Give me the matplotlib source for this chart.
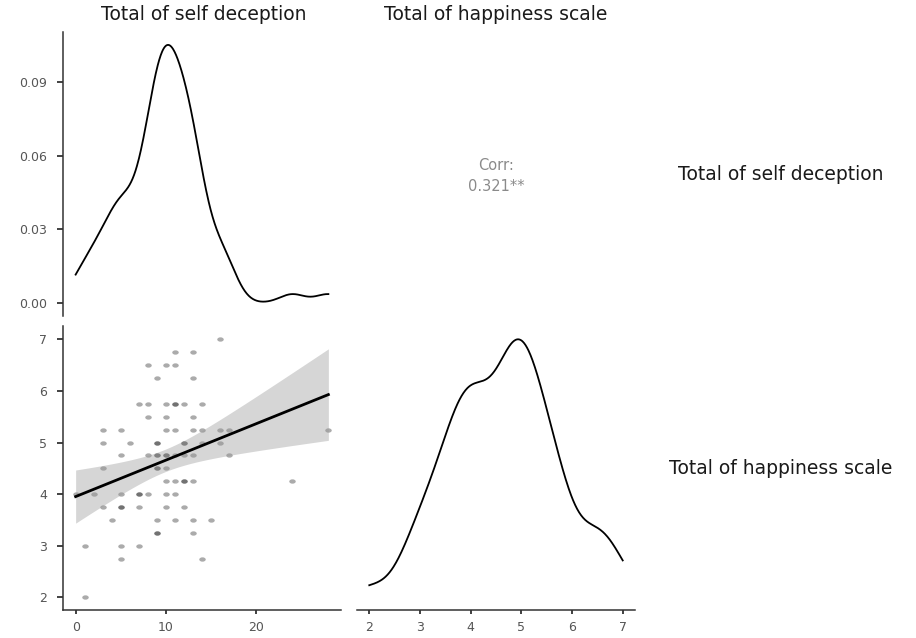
import matplotlib
matplotlib.use("Agg")
import matplotlib.pyplot as plt
import numpy as np
from matplotlib.path import Path
from matplotlib.transforms import Affine2D

# self deception score and happiness score for each respondent
self_deception = [16,
                  11, 13,
                  8, 10, 11,
                  9, 13,
                  7, 8, 10, 11, 11, 12, 14,
                  8, 10, 13,
                  3, 5, 10, 11, 13, 14, 16, 17, 28,
                  3, 6, 9, 9, 12, 12, 14, 16,
                  5, 8, 9, 9, 10, 10, 11, 12, 13, 17,
                  3, 9, 9, 10,
                  10, 11, 12, 12, 13, 24,
                  0, 2, 5, 7, 7, 8, 10, 11,
                  3, 5, 5, 7, 10, 12,
                  4, 9, 11, 13, 15,
                  9, 9, 13,
                  1, 5, 7,
                  5, 14,
                  1]
happiness = [7] * 1 + [6.75] * 2 + [6.5] * 3 + [6.25] * 2 + [5.75] * 7 + [5.5] * 3 + \
            [5.25] * 9 + [5] * 8 + [4.75] * 10 + [4.5] * 4 + [4.25] * 6 + [4] * 8 + \
            [3.75] * 6 + [3.5] * 5 + [3.25] * 3 + [3] * 3 + [2.75] * 2 + [2] * 1

names = ["Total of self deception", "Total of happiness scale"]
corr_label = "0.321**"
dens_ticks = [0.00, 0.03, 0.06, 0.09]

x = np.array(self_deception, dtype=float)
y = np.array(happiness, dtype=float)


def kde(v, n=512):
    # gaussian density with R's bw.nrd0 bandwidth
    q75, q25 = np.percentile(v, [75, 25])
    bw = 0.9 * min(v.std(ddof=1), (q75 - q25) / 1.34) * len(v) ** -0.2
    g = np.linspace(v.min(), v.max(), n)
    d = np.exp(-0.5 * ((g[:, None] - v[None, :]) / bw) ** 2).sum(1)
    d /= len(v) * bw * np.sqrt(2 * np.pi)
    return g, d


def expand(lo, hi, f=0.05):
    r = hi - lo
    return lo - f * r, hi + f * r


plt.rcParams['font.family'] = ['DejaVu Sans']
W, H = 916, 638
fig = plt.figure(figsize=(W / 100, H / 100), dpi=100)


def box(l, r, t, b):
    return [l / W, 1 - b / H, (r - l) / W, (b - t) / H]


ax_tl = fig.add_axes(box(63, 341, 32, 315.6))
ax_tr = fig.add_axes(box(356.6, 635.4, 32, 315.6))
ax_bl = fig.add_axes(box(63, 341, 326.4, 610.2))
ax_br = fig.add_axes(box(356.6, 635.4, 326.4, 610.2))

axis_col = "#333333"
tick_col = "#555555"
xlim = expand(x.min(), x.max())
ylim = expand(y.min(), y.max())

for ax in (ax_tl, ax_tr, ax_bl, ax_br):
    for s in ax.spines.values():
        s.set_visible(False)
        s.set_color(axis_col)
        s.set_linewidth(1.1)
    ax.tick_params(colors=axis_col, labelcolor=tick_col, labelsize=9, width=1.3)
    ax.tick_params(axis="x", length=3, pad=5)
    ax.tick_params(axis="y", length=4.5, pad=7)
    ax.set_facecolor("none")

# density of self deception
gx, dx = kde(x)
ax_tl.plot(gx, dx, color="black", lw=1.3)
ax_tl.set_xlim(*xlim)
ax_tl.set_ylim(*expand(0, dx.max()))
ax_tl.spines["left"].set_visible(True)
ax_tl.set_yticks(dens_ticks)
ax_tl.set_yticklabels([f"{t:.2f}" for t in dens_ticks])
ax_tl.set_xticks([])

# correlation panel
ax_tr.set_xticks([])
ax_tr.set_yticks([])
ax_tr.text(0.5, 0.53, "Corr:", transform=ax_tr.transAxes, ha="center", va="center",
           fontsize=10.5, color="#8a8a8a")
ax_tr.text(0.5, 0.455, corr_label, transform=ax_tr.transAxes, ha="center", va="center",
           fontsize=10.5, color="#8a8a8a")

# scatter with linear fit and 95% band
dot = Path.unit_circle().transformed(Affine2D().scale(1.5, 1.0))
ax_bl.scatter(x, y, marker=dot, s=22, color="black", alpha=0.33, linewidths=0)
b1, b0 = np.polyfit(x, y, 1)
xs = np.linspace(x.min(), x.max(), 80)
fit = b0 + b1 * xs
res = y - (b0 + b1 * x)
n = len(x)
se_res = np.sqrt((res ** 2).sum() / (n - 2))
se = se_res * np.sqrt(1 / n + (xs - x.mean()) ** 2 / ((x - x.mean()) ** 2).sum())
tq = 1.99
ax_bl.fill_between(xs, fit - tq * se, fit + tq * se, color="#999999", alpha=0.4, lw=0)
ax_bl.plot(xs, fit, color="black", lw=2.0)
ax_bl.set_xlim(*xlim)
ax_bl.set_ylim(*ylim)
ax_bl.spines["left"].set_visible(True)
ax_bl.spines["bottom"].set_visible(True)
ax_bl.set_xticks([0, 10, 20])
ax_bl.set_yticks([2, 3, 4, 5, 6, 7])

# density of happiness
gy, dy = kde(y)
ax_br.plot(gy, dy, color="black", lw=1.3)
ax_br.set_xlim(*ylim)
ax_br.set_ylim(*expand(0, dy.max()))
ax_br.spines["bottom"].set_visible(True)
ax_br.set_xticks([2, 3, 4, 5, 6, 7])
ax_br.set_yticks([])

# strip labels
lab = dict(ha="center", va="center", fontsize=13.5, color="#1a1a1a")
fig.text(204 / W, 1 - 15 / H, names[0], **lab)
fig.text(496 / W, 1 - 15 / H, names[1], **lab)
fig.text(781 / W, 1 - 174 / H, names[0], **lab)
fig.text(781 / W, 1 - 469 / H, names[1], **lab)

fig.savefig("out.png", dpi=100)
